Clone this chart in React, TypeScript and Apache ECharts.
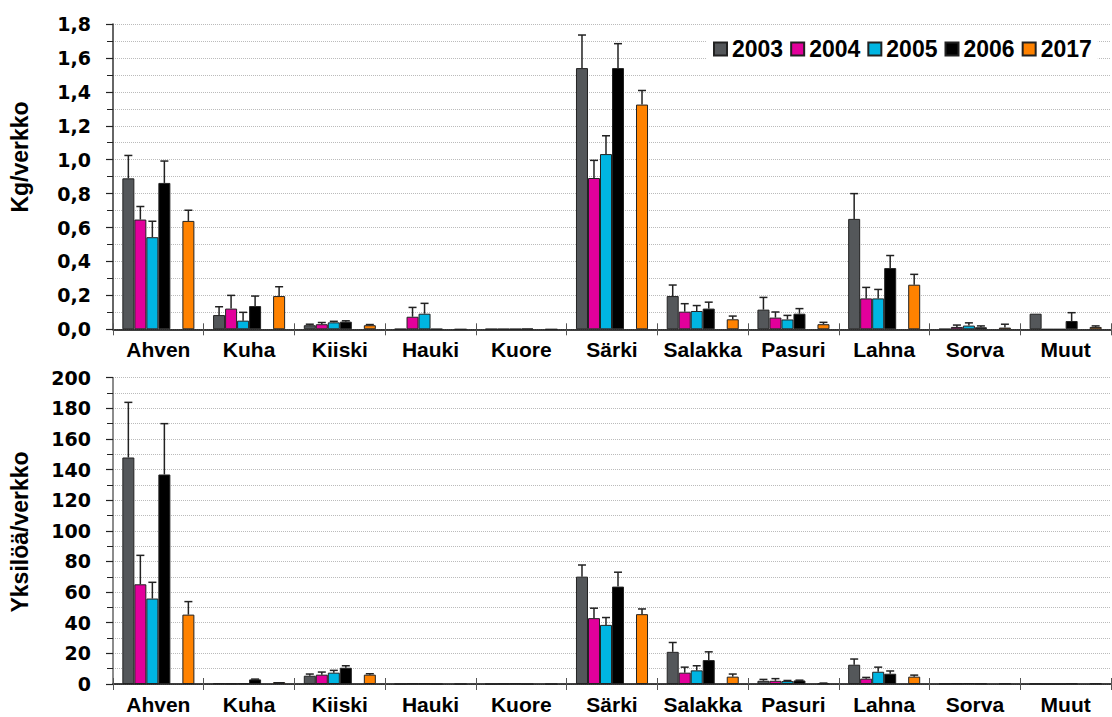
import React, { useEffect, useRef } from 'react';
import * as echarts from 'echarts';

const categories = ['Ahven', 'Kuha', 'Kiiski', 'Hauki', 'Kuore', 'Särki', 'Salakka', 'Pasuri', 'Lahna', 'Sorva', 'Muut'];
const years = ['2003', '2004', '2005', '2006', '2017'];
const colors = ['#54575A', '#E2009B', '#00B5E2', '#000000', '#FF8200'];
const slots = [0, 1, 2, 3, 5];

const kgTicks = [0, 1.8, 0.2];
const nTicks = [0, 200, 20];

// Kg/verkko
const kg2003 = [0.89, 0.084, 0.024, 0.002, 0.002, 1.54, 0.196, 0.116, 0.651, 0.002, 0.092];
const kg2004 = [0.647, 0.122, 0.03, 0.074, 0.002, 0.892, 0.104, 0.069, 0.182, 0.014, 0];
const kg2005 = [0.543, 0.051, 0.041, 0.092, 0.002, 1.033, 0.108, 0.058, 0.182, 0.022, 0];
const kg2006 = [0.863, 0.137, 0.045, 0.002, 0.004, 1.54, 0.122, 0.092, 0.361, 0.012, 0.049];
const kg2017 = [0.639, 0.196, 0.024, 0, 0, 1.325, 0.059, 0.03, 0.263, 0.01, 0.014];
const kg2003Err = [0.135, 0.049, 0.006, 0, 0, 0.195, 0.065, 0.072, 0.149, 0, 0];
const kg2004Err = [0.077, 0.078, 0.01, 0.055, 0, 0.104, 0.047, 0.033, 0.065, 0.011, 0];
const kg2005Err = [0.094, 0.049, 0.006, 0.061, 0, 0.108, 0.032, 0.024, 0.053, 0.016, 0];
const kg2006Err = [0.129, 0.059, 0.005, 0, 0, 0.144, 0.038, 0.03, 0.074, 0.008, 0.049];
const kg2017Err = [0.063, 0.055, 0.004, 0, 0, 0.083, 0.019, 0.011, 0.061, 0.02, 0.006];

// Yksilöä/verkko
const n2003 = [147.9, 0.5, 5.4, 0, 0, 70.1, 21, 2.1, 12.6, 0.2, 0.2];
const n2004 = [65.1, 0.3, 6.1, 0.3, 0.2, 43, 7.4, 2.1, 3.5, 0.4, 0];
const n2005 = [55.8, 0.5, 7.4, 0.3, 0.3, 38.6, 8.9, 1.9, 8.0, 0.6, 0];
const n2006 = [136.8, 3.0, 10.6, 0, 0, 63.6, 15.6, 2.3, 6.7, 0.3, 0.3];
const n2017 = [45.3, 1.3, 6.1, 0, 0, 45.6, 4.8, 0.4, 4.8, 0.3, 0.4];
const n2003Err = [36, 0, 1.1, 0, 0, 7.6, 6.1, 0.9, 3.7, 0, 0];
const n2004Err = [18.9, 0, 1.7, 0, 0, 6.5, 3.6, 1.4, 0.8, 0, 0];
const n2005Err = [10.6, 0, 1.5, 0, 0, 4.8, 3.0, 0.4, 3.0, 0, 0];
const n2006Err = [33.2, 0.2, 1.3, 0, 0, 9.4, 5.4, 0.2, 1.8, 0, 0];
const n2017Err = [8.5, 0, 0.6, 0, 0, 3.4, 1.7, 0.2, 1.0, 0, 0];

const kgValues = [kg2003, kg2004, kg2005, kg2006, kg2017];
const kgErrs = [kg2003Err, kg2004Err, kg2005Err, kg2006Err, kg2017Err];
const nValues = [n2003, n2004, n2005, n2006, n2017];
const nErrs = [n2003Err, n2004Err, n2005Err, n2006Err, n2017Err];

const CAT_GAP = 0.206;
const sansFont = "'Liberation Sans', Arial, sans-serif";
const numFont = "'DejaVu Sans', Verdana, sans-serif";

function buildSeries(gi: number, values: number[][], errs: number[][]) {
  const out: any[] = [];
  const order = [0, 1, 2, 3, -1, 4];
  order.forEach((k) => {
    if (k < 0) {
      out.push({
        type: 'bar', name: 'gap' + gi, xAxisIndex: gi * 2, yAxisIndex: gi,
        data: categories.map(() => null), barGap: '0%', barCategoryGap: CAT_GAP * 100 + '%',
      });
    } else {
      out.push({
        type: 'bar', name: years[k], xAxisIndex: gi * 2, yAxisIndex: gi,
        data: values[k], barGap: '0%', barCategoryGap: CAT_GAP * 100 + '%',
        itemStyle: { color: colors[k], borderColor: '#222', borderWidth: 1 },
      });
    }
  });
  const errData: number[][] = [];
  values.forEach((vals, k) => {
    vals.forEach((v, i) => {
      const e = errs[k][i];
      if (e > 0) errData.push([i, v + e, slots[k], v]);
    });
  });
  out.push({
    type: 'custom', xAxisIndex: gi * 2, yAxisIndex: gi, silent: true, z: 5,
    dimensions: ['x', 'top', 'slot', 'base'],
    encode: { x: 0, y: 1 },
    data: errData,
    renderItem: (params: any, api: any) => {
      const cat = api.value(0);
      const top = api.value(1);
      const slot = api.value(2);
      const base = api.value(3);
      const pb = api.coord([cat, base]);
      const pt = api.coord([cat, top]);
      const band = api.size([1, 0])[0];
      const bw = (band * (1 - CAT_GAP)) / 6;
      const x = pb[0] + (slot - 2.5) * bw;
      const cap = 4;
      const st = { stroke: '#222', lineWidth: 1.5 };
      return {
        type: 'group',
        children: [
          { type: 'line', shape: { x1: x, y1: pb[1], x2: x, y2: pt[1] }, style: st },
          { type: 'line', shape: { x1: x - cap, y1: pt[1], x2: x + cap, y2: pt[1] }, style: st },
        ],
      };
    },
  });
  return out;
}

function xAxes(gi: number) {
  return [
    {
      type: 'category', gridIndex: gi, data: categories,
      axisLine: { show: true, onZero: true, lineStyle: { color: '#000', width: 1.5 } },
      axisTick: { show: true, interval: 0, length: 6, lineStyle: { color: '#555', width: 1 } },
      axisLabel: { interval: 0, color: '#000', fontFamily: sansFont, fontWeight: 'bold', fontSize: 21, margin: 10 },
      splitLine: { show: false },
    },
    {
      type: 'category', gridIndex: gi, data: categories, position: 'bottom',
      axisLine: { show: false },
      axisTick: { show: true, interval: 0, inside: true, length: 6, lineStyle: { color: '#555', width: 1 } },
      axisLabel: { show: false, interval: 0 },
      splitLine: { show: false },
    },
  ];
}

function yAxis(gi: number, ticks: number[], fmt: (v: number) => string, lineColor: string) {
  return {
    type: 'value', gridIndex: gi, min: ticks[0], max: ticks[1], interval: ticks[2],
    axisLine: { show: true, lineStyle: { color: lineColor, width: 1.5 } },
    axisTick: { show: true, length: 7, lineStyle: { color: '#222', width: 1.2 } },
    minorTick: { show: true, splitNumber: 2, length: 6, lineStyle: { color: '#222', width: 1 } },
    splitLine: { show: true, lineStyle: { color: '#bbb', type: 'dotted', width: 1 } },
    minorSplitLine: { show: true, lineStyle: { color: '#bbb', type: 'dotted', width: 1 } },
    axisLabel: { formatter: fmt, color: '#000', fontFamily: numFont, fontWeight: 'bold', fontSize: 19, margin: 22 },
  };
}

export default function App() {
  const ref = useRef<HTMLDivElement>(null);
  useEffect(() => {
    const chart = echarts.init(ref.current!, null, { renderer: 'svg' });
    const option: any = {
      animation: false,
      backgroundColor: '#fff',
      grid: [
        { left: 113, right: 1, top: 24, height: 305.3 },
        { left: 113, right: 1, top: 377.7, height: 306.3 },
      ],
      legend: {
        data: years,
        left: 707, top: 31, padding: 6, backgroundColor: '#fff',
        icon: 'rect', itemWidth: 13, itemHeight: 13, itemGap: 7,
        textStyle: { color: '#000', fontFamily: sansFont, fontWeight: 'bold', fontSize: 23, lineHeight: 24 },
      },
      xAxis: [...xAxes(0), ...xAxes(1)],
      yAxis: [
        yAxis(0, kgTicks, (v: number) => v.toFixed(1).replace('.', ','), '#333'),
        yAxis(1, nTicks, (v: number) => String(Math.round(v)), '#666'),
      ],
      graphic: [
        {
          type: 'text', x: 20, y: 157, rotation: Math.PI / 2,
          style: { text: 'Kg/verkko', fill: '#000', font: "bold 23px 'Liberation Sans', Arial, sans-serif", align: 'center', verticalAlign: 'middle' },
        },
        {
          type: 'text', x: 20, y: 532, rotation: Math.PI / 2,
          style: { text: 'Yksilöä/verkko', fill: '#000', font: "bold 23px 'Liberation Sans', Arial, sans-serif", align: 'center', verticalAlign: 'middle' },
        },
      ],
      series: [...buildSeries(0, kgValues, kgErrs), ...buildSeries(1, nValues, nErrs)],
    };
    chart.setOption(option);
    return () => chart.dispose();
  }, []);
  return (
    <div
      ref={ref}
      style={{ position: 'fixed', left: 0, top: 0, width: 1112, height: 717, background: '#fff' }}
    />
  );
}
